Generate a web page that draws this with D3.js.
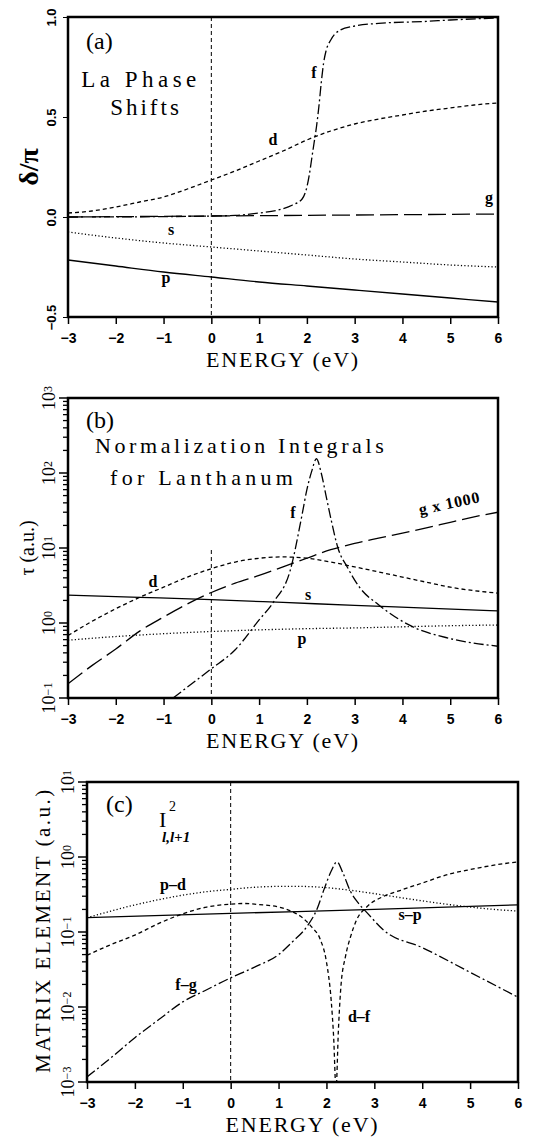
<!DOCTYPE html>
<html>
<head>
<meta charset="utf-8">
<script src="https://cdn.jsdelivr.net/npm/d3@7"></script>
<style>
  body { margin: 0; background: #fff; }
  svg { display: block; }
  .frame { fill: none; stroke: #000; stroke-width: 2.5; }
  .curve { fill: none; stroke: #000; stroke-width: 1.3; }
  .tick text { font-family: "Liberation Sans", Arial, sans-serif; font-weight: bold; font-size: 14px; }
  .serif { font-family: "Liberation Serif", "Times New Roman", serif; }
</style>
</head>
<body>
<svg id="chart" width="548" height="1139"></svg>
<script>
// ---- data ----
var energyTicks = [-3, -2, -1, 0, 1, 2, 3, 4, 5, 6];

// (a) phase shifts, delta/pi   [E (eV), value]
var phaseD = [[-3,0.02],[-2.5,0.03],[-2,0.05],[-1.5,0.075],[-1,0.10],[-0.5,0.14],[0,0.185],[0.5,0.23],[1,0.28],[1.5,0.33],[2,0.385],[2.5,0.43],[3,0.465],[3.5,0.49],[4,0.51],[4.5,0.53],[5,0.545],[5.5,0.56],[6,0.57]];
var phaseF = [[-3,0.0],[-1,0.002],[0,0.005],[0.5,0.008],[1,0.02],[1.4,0.035],[1.7,0.06],[1.9,0.09],[2.0,0.15],[2.05,0.21],[2.1,0.29],[2.15,0.37],[2.2,0.45],[2.25,0.55],[2.3,0.67],[2.35,0.77],[2.4,0.83],[2.5,0.885],[2.7,0.935],[3,0.955],[3.5,0.968],[4.5,0.978],[5,0.985],[6,0.995]];
var phaseG = [[-3,0.0],[0,0.005],[3,0.01],[6,0.015]];
var phaseS = [[-3,-0.075],[-2,-0.105],[-1,-0.13],[0,-0.15],[1,-0.17],[2,-0.19],[3,-0.21],[4,-0.225],[5,-0.24],[6,-0.25]];
var phaseP = [[-3,-0.215],[-2,-0.245],[-1,-0.275],[0,-0.30],[1,-0.325],[2,-0.345],[3,-0.365],[4,-0.385],[5,-0.405],[6,-0.425]];
var phaseTicks = [-0.5, 0.0, 0.5, 1.0];

// (b) normalization integrals tau (a.u.)
var normF = [[-0.8,0.1],[-0.5,0.14],[0,0.245],[0.5,0.44],[1,1.1],[1.3,1.9],[1.65,5],[1.9,28],[2.0,60],[2.1,105],[2.2,155],[2.3,100],[2.4,50],[2.5,25],[2.65,10],[2.85,5.5],[3.1,3],[3.5,1.75],[4.2,0.9],[5,0.62],[6,0.49]];
var normD = [[-3,0.68],[-2.5,1.05],[-2,1.55],[-1.5,2.2],[-1,3.0],[-0.5,4.1],[0,5.3],[0.5,6.5],[1,7.3],[1.5,7.6],[2,7.3],[2.5,6.5],[3,5.6],[3.5,4.8],[4,4.1],[4.5,3.5],[5,3.0],[5.5,2.7],[6,2.5]];
var normG = [[-3,0.155],[-2.5,0.27],[-2,0.45],[-1.5,0.78],[-1,1.2],[-0.5,1.8],[0,2.55],[0.5,3.4],[1,4.3],[1.5,5.6],[2,7.3],[2.5,9.5],[3,11.5],[3.5,13.5],[4,15.8],[4.5,18.5],[5,22],[5.5,26],[6,30]];
var normS = [[-3,2.35],[-1.5,2.2],[0,2.05],[1.5,1.88],[3,1.72],[4.5,1.58],[6,1.45]];
var normP = [[-3,0.59],[-2,0.66],[-1,0.72],[0,0.77],[1,0.81],[2,0.84],[3,0.86],[4,0.89],[5,0.92],[6,0.94]];
var normDecades = [-1, 0, 1, 2, 3];

// (c) matrix elements I^2 (a.u.)
var matSP = [[-3,0.155],[0,0.177],[3,0.2],[6,0.23]];
var matPD = [[-3,0.155],[-2.5,0.19],[-2,0.23],[-1.5,0.27],[-1,0.31],[-0.5,0.345],[0,0.37],[0.5,0.395],[1,0.405],[1.5,0.405],[2,0.39],[2.5,0.36],[3,0.325],[3.5,0.29],[4,0.26],[4.5,0.235],[5,0.215],[5.5,0.2],[6,0.19]];
var matDF = [[-3,0.049],[-2.5,0.068],[-2,0.091],[-1.5,0.13],[-1,0.175],[-0.5,0.215],[0,0.235],[0.3,0.24],[0.5,0.235],[1,0.215],[1.3,0.185],[1.5,0.155],[1.7,0.115],[1.87,0.08],[2.0,0.04],[2.1,0.012],[2.15,0.004],[2.2,0.0008],[2.25,0.005],[2.3,0.018],[2.4,0.048],[2.5,0.085],[2.63,0.145],[2.84,0.215],[3.2,0.3],[3.55,0.36],[4,0.45],[4.6,0.6],[5,0.68],[5.5,0.78],[6,0.86]];
var matFG = [[-3,0.00117],[-2.5,0.0021],[-2,0.0039],[-1.5,0.0068],[-1,0.0117],[-0.5,0.017],[0,0.0245],[0.5,0.034],[1,0.05],[1.3,0.075],[1.6,0.12],[1.8,0.2],[1.95,0.37],[2.1,0.65],[2.22,0.86],[2.35,0.6],[2.5,0.35],[2.65,0.25],[2.85,0.18],[3.2,0.105],[4,0.062],[5,0.029],[6,0.0135]];
var matDecades = [-3, -2, -1, 0, 1];

// dash styles
var DASH = "4,3", DOT = "1.2,2.2", DASHDOT = "10,3,2,3", LONG = "18,6";

var svg = d3.select("#chart");

function panel(id, box, yScale) {
  var x = d3.scaleLinear().domain([-3, 6]).range([box.left, box.right]);
  var g = svg.append("g");
  g.append("clipPath").attr("id", "clip" + id)
    .append("rect").attr("x", box.left).attr("y", box.top)
    .attr("width", box.right - box.left).attr("height", box.bottom - box.top);

  // x axis
  var xa = g.append("g").attr("transform", "translate(0," + box.bottom + ")")
    .call(d3.axisBottom(x).tickValues(energyTicks).tickSize(7).tickPadding(9)
      .tickFormat(function(d) { return d < 0 ? "\u2212" + (-d) : d; }));
  xa.select(".domain").remove();
  xa.selectAll("line").attr("stroke-width", 1.5);

  g.append("text").attr("class", "serif")
    .attr("x", (box.left + box.right) / 2).attr("y", box.bottom + 50)
    .attr("text-anchor", "middle").attr("font-size", 22).attr("letter-spacing", 1.8)
    .text("ENERGY (eV)");

  var plot = g.append("g").attr("clip-path", "url(#clip" + id + ")");
  return { g: g, plot: plot, x: x, y: yScale, box: box };
}

function curve(p, data, dash, width) {
  var line = d3.line().curve(d3.curveMonotoneX)
    .x(function(d) { return p.x(d[0]); })
    .y(function(d) { return p.y(d[1]); });
  p.plot.append("path").attr("class", "curve").attr("d", line(data))
    .attr("stroke-dasharray", dash || null)
    .attr("stroke-width", width || 1.3);
}

function zeroLine(p, top) {
  p.g.append("line").attr("x1", p.x(0)).attr("x2", p.x(0))
    .attr("y1", top).attr("y2", p.box.bottom)
    .attr("stroke", "#000").attr("stroke-width", 1).attr("stroke-dasharray", "4,3");
}

function frame(p) {
  var b = p.box;
  p.g.append("rect").attr("class", "frame")
    .attr("x", b.left).attr("y", b.top)
    .attr("width", b.right - b.left).attr("height", b.bottom - b.top);
}

function label(p, txt, x, y, opts) {
  opts = opts || {};
  return p.g.append("text").attr("class", "serif")
    .attr("x", x).attr("y", y)
    .attr("font-size", opts.size || 16)
    .attr("font-weight", opts.weight || "bold")
    .attr("text-anchor", opts.anchor || "start")
    .attr("letter-spacing", opts.spacing || null)
    .text(txt);
}

function logAxis(p, decades) {
  var minors = [];
  decades.forEach(function(k, i) {
    if (i < decades.length - 1)
      for (var m = 2; m <= 9; m++) minors.push(m * Math.pow(10, k));
  });
  var b = p.box;
  var ax = p.g.append("g").attr("transform", "translate(" + b.left + ",0)");
  ax.selectAll("line.minor").data(minors).enter().append("line")
    .attr("x1", -5).attr("x2", 0)
    .attr("y1", function(d) { return p.y(d); }).attr("y2", function(d) { return p.y(d); })
    .attr("stroke", "#000").attr("stroke-width", 1.3);
  ax.selectAll("line.major").data(decades).enter().append("line")
    .attr("x1", -9).attr("x2", 0)
    .attr("y1", function(k) { return p.y(Math.pow(10, k)); })
    .attr("y2", function(k) { return p.y(Math.pow(10, k)); })
    .attr("stroke", "#000").attr("stroke-width", 1.5);
  var t = ax.selectAll("text.lab").data(decades).enter().append("text")
    .attr("class", "serif")
    .attr("transform", function(k) { return "translate(-13," + p.y(Math.pow(10, k)) + ") rotate(-90)"; })
    .attr("text-anchor", "middle").attr("font-size", 18);
  t.append("tspan").text("10");
  t.append("tspan").attr("font-size", 12).attr("dy", -3)
    .text(function(k) { return k < 0 ? "\u2212" + (-k) : k; });
}

// ---------------- (a) ----------------
var ya = d3.scaleLinear().domain([-0.5, 1.0]).range([317, 17]);
var pa = panel("a", { left: 68, right: 498, top: 17, bottom: 317 }, ya);
zeroLine(pa, 17);
curve(pa, phaseG, LONG);
curve(pa, phaseD, DASH);
curve(pa, phaseF, DASHDOT);
curve(pa, phaseS, DOT);
curve(pa, phaseP, null);
frame(pa);
var yaAx = pa.g.append("g").attr("transform", "translate(68,0)")
  .call(d3.axisLeft(ya).tickValues(phaseTicks).tickSize(5)
    .tickFormat(function(d) { return d < 0 ? "\u2212" + d3.format(".1f")(-d) : d3.format(".1f")(d); }));
yaAx.select(".domain").remove();
yaAx.selectAll("text").attr("x", 0).attr("y", -12).attr("dy", 0)
  .attr("text-anchor", "middle").attr("transform", "rotate(-90)").style("font-size", "13px");

pa.g.append("text").attr("class", "serif")
  .attr("transform", "translate(38,167) rotate(-90)")
  .attr("text-anchor", "middle").attr("font-size", 28).attr("font-weight", "bold")
  .text("\u03b4/\u03c0");

label(pa, "(a)", 86, 49, { size: 24, weight: "normal" });
label(pa, "La Phase", 141, 87, { size: 23, weight: "normal", anchor: "middle", spacing: 4.5 });
label(pa, "Shifts", 146, 115, { size: 23, weight: "normal", anchor: "middle", spacing: 3 });
label(pa, "f", 314, 78, { anchor: "middle" });
label(pa, "d", 273, 145, { anchor: "middle" });
label(pa, "g", 489, 203, { anchor: "middle" });
label(pa, "s", 171, 235, { anchor: "middle" });
label(pa, "p", 166, 283, { anchor: "middle" });

// ---------------- (b) ----------------
var yb = d3.scaleLog().domain([0.1, 1000]).range([698, 398]);
var pb = panel("b", { left: 68, right: 498, top: 398, bottom: 698 }, yb);
zeroLine(pb, 550);
curve(pb, normS, null);
curve(pb, normP, DOT);
curve(pb, normD, DASH);
curve(pb, normG, LONG);
curve(pb, normF, DASHDOT);
frame(pb);
logAxis(pb, normDecades);

pb.g.append("text").attr("class", "serif")
  .attr("transform", "translate(34,548) rotate(-90)")
  .attr("text-anchor", "middle").attr("font-size", 20).text("\u03c4 (a.u.)");

label(pb, "(b)", 86, 428, { size: 24, weight: "normal" });
label(pb, "Normalization Integrals", 95, 453, { size: 22, weight: "normal", spacing: 3.6 });
label(pb, "for Lanthanum", 110, 485, { size: 22, weight: "normal", spacing: 4.3 });
label(pb, "f", 293, 518, { anchor: "middle" });
label(pb, "d", 153, 587, { anchor: "middle" });
label(pb, "s", 308, 600, { anchor: "middle" });
label(pb, "p", 302, 644, { anchor: "middle" });
pb.g.append("text").attr("class", "serif")
  .attr("transform", "translate(420,515) rotate(-12)")
  .attr("font-size", 16).attr("font-weight", "bold").attr("letter-spacing", 0.8).text("g x 1000");

// ---------------- (c) ----------------
var yc = d3.scaleLog().domain([0.001, 10]).range([1082, 782]);
var pc = panel("c", { left: 87, right: 518, top: 782, bottom: 1082 }, yc);
zeroLine(pc, 782);
curve(pc, matSP, null);
curve(pc, matPD, DOT);
curve(pc, matDF, DASH);
curve(pc, matFG, DASHDOT);
frame(pc);
logAxis(pc, matDecades);

pc.g.append("text").attr("class", "serif")
  .attr("transform", "translate(50,930) rotate(-90)")
  .attr("text-anchor", "middle").attr("font-size", 21).attr("letter-spacing", 2.5)
  .text("MATRIX ELEMENT (a.u.)");

label(pc, "(c)", 106, 812, { size: 24, weight: "normal" });
label(pc, "I", 159, 827, { size: 22, weight: "normal" });
label(pc, "2", 169, 811, { size: 14, weight: "normal" });
label(pc, "l,l+1", 162, 842, { size: 15 }).attr("font-style", "italic");
label(pc, "p\u2013d", 173, 890, { anchor: "middle" });
label(pc, "s\u2013p", 410, 920, { anchor: "middle" });
label(pc, "f\u2013g", 186, 990, { anchor: "middle" });
label(pc, "d\u2013f", 359, 1022, { anchor: "middle" });
</script>
</body>
</html>
